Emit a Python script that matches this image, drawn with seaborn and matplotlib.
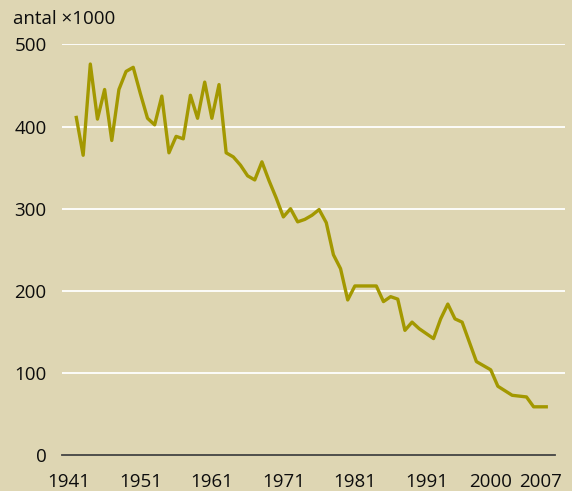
import matplotlib
matplotlib.use("Agg")
import matplotlib.pyplot as plt
import seaborn as sns
import pandas as pd

# ---- data ----
years = list(range(1942, 1997)) + [1998, 2000, 2001, 2003, 2005, 2006, 2008]
values = [413, 365, 476, 409, 445, 383, 445, 467, 472, 440,
          410, 402, 437, 368, 388, 385, 438, 410, 454, 410,
          451, 368, 363, 353, 340, 335, 357, 334, 313, 290,
          300, 284, 287, 292, 299, 283, 244, 227, 189, 206,
          206, 206, 206, 187, 193, 190, 152, 162, 154, 148,
          142, 166, 184, 166, 162,
          114, 104, 84, 73, 71, 59, 59]
x_ticks = [1941, 1951, 1961, 1971, 1981, 1991, 2000, 2007]
y_ticks = [0, 100, 200, 300, 400, 500]
unit_label = "antal \u00d71000"

df = pd.DataFrame({"year": years, "antal": values})

# ---- style ----
BG = "#ded6b3"
LINE = "#a39800"
TXT = "#0d0d0d"
FS = 13.5

sns.set_style("white")
plt.rcParams["font.family"] = ["Open Sans", "DejaVu Sans"]

fig = plt.figure(figsize=(5.72, 4.91), dpi=100)
fig.patch.set_facecolor(BG)
ax = fig.add_axes([62 / 572, 1 - 455.3 / 491, (565 - 62) / 572, (455.3 - 44.3) / 491])
ax.set_facecolor(BG)

for yv in y_ticks[1:]:
    ax.axhline(yv, color="white", lw=1.3, zorder=1)

sns.lineplot(data=df, x="year", y="antal", ax=ax, color=LINE, linewidth=2.4,
             zorder=3, solid_joinstyle="round", solid_capstyle="butt")

ax.set_xlim(1940.04, 2010.39)
ax.set_ylim(0, 500)

for s in ["top", "right", "left"]:
    ax.spines[s].set_visible(False)
ax.spines["bottom"].set_color("#444444")
ax.spines["bottom"].set_linewidth(1.3)
ax.spines["bottom"].set_bounds(1940.04, 2008.99)
ax.spines["bottom"].set_zorder(4)

ax.set_xticks(x_ticks)
ax.set_xticklabels([str(t) for t in x_ticks])
ax.set_yticks(y_ticks)
ax.set_yticklabels([str(t) for t in y_ticks])
ax.tick_params(axis="x", direction="out", length=7, width=1.3, color="#444444",
               labelsize=FS, labelcolor=TXT, pad=6)
ax.tick_params(axis="y", length=0, labelsize=FS, labelcolor=TXT, pad=11)
ax.xaxis.get_major_ticks()[0].tick1line.set_visible(False)

ax.set_xlabel("")
ax.set_ylabel("")
ax.grid(False)

fig.text(13 / 572, 1 - 10 / 491, unit_label, ha="left", va="top",
         fontsize=FS, color=TXT)

fig.savefig("out.png", dpi=100, facecolor=BG)
